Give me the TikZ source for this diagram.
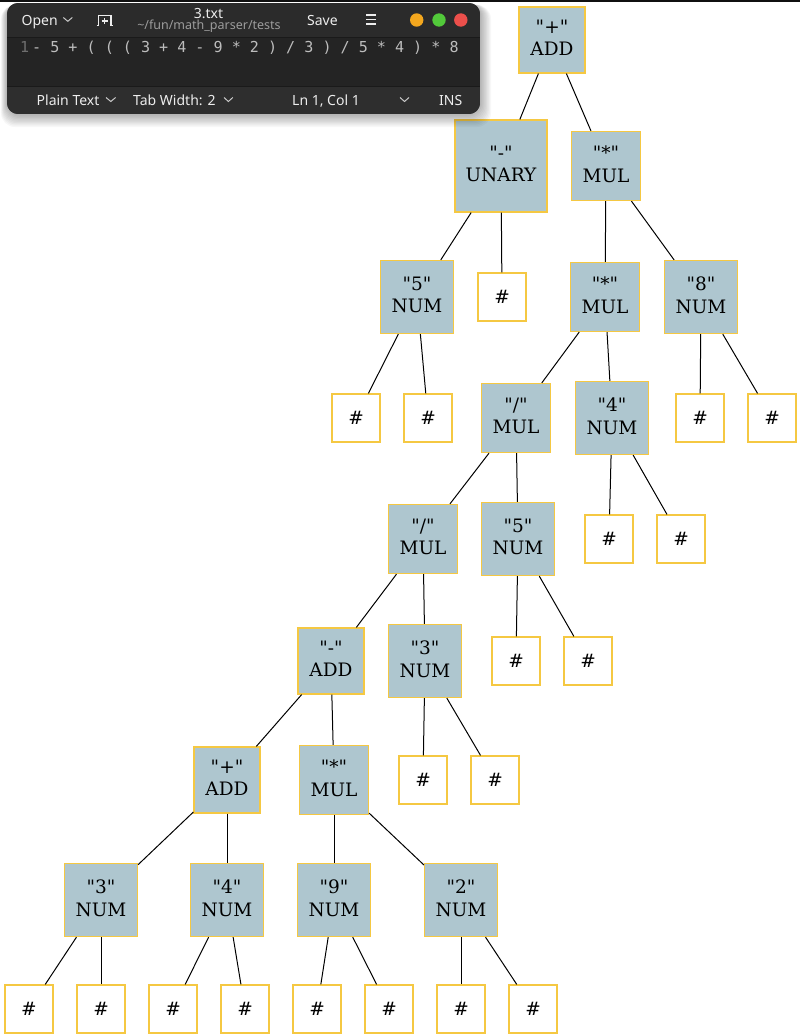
\documentclass[tikz,border=0pt]{standalone}
\usepackage{fontspec}
\setmainfont{DejaVu Serif}[Ligatures=TeXOff]
\newfontfamily\uifont{Noto Sans}
\newfontfamily\codefont{DejaVu Sans Mono}

\definecolor{nodefill}{HTML}{AEC6CF}
\definecolor{nodeedge}{HTML}{F5C842}
\definecolor{winhead}{HTML}{2B2B2B}
\definecolor{winbody}{HTML}{242424}
\definecolor{winfoot}{HTML}{2E2E2E}
\definecolor{winline}{HTML}{1A1A1A}
\definecolor{uitext}{HTML}{EDEDED}
\definecolor{uidim}{HTML}{9C9C9C}
\definecolor{codetext}{HTML}{BDBDBD}
\definecolor{gutter}{HTML}{6E6E6E}
\definecolor{dotorange}{HTML}{F3A71E}
\definecolor{dotgreen}{HTML}{52C93A}
\definecolor{dotred}{HTML}{EC4F4B}
\definecolor{topbar}{HTML}{101010}

\begin{document}
\begin{tikzpicture}[x=1pt, y=-1pt,
  tree/.style={draw=nodeedge, line width=1.2pt, inner sep=0pt, align=center,
               font=\fontsize{18.5}{22.4}\selectfont},
  op/.style={tree, fill=nodefill, text depth=4pt},
  addbox/.style={op, minimum size=66pt},
  mulbox/.style={op, minimum size=69pt},
  numbox/.style={op, minimum size=73pt},
  unarybox/.style={op, minimum size=92pt},
  leaf/.style={tree, fill=white, minimum size=48pt},
  link/.style={draw=black, line width=1pt},
  uitxt/.style={font=\uifont\fontsize{14}{16}\selectfont, text=uitext, inner sep=0pt},
  pathtxt/.style={font=\uifont\fontsize{12.5}{14}\selectfont, text=uidim, inner sep=0pt},
  codetxt/.style={font=\codefont\fontsize{15.07}{17}\selectfont, inner sep=0pt},
  chev/.style={draw=uitext!85!black, line width=1pt, line join=miter},
  icon/.style={draw=uitext, line width=1.1pt}
]
\useasboundingbox (0,0) rectangle (800,1036);
\fill[white] (0,0) rectangle (800,1036);

% ---------- expression tree ----------
\node[addbox]   (root)   at (552,40)  {"+"\\ADD};
\node[unarybox] (neg)    at (501,166) {"-"\\UNARY};
\node[mulbox]   (mulA)   at (606,166) {"*"\\MUL};
\node[numbox]   (fiveA)  at (417,297) {"5"\\NUM};
\node[leaf]     (h1)     at (502,297) {\#};
\node[mulbox]   (mulB)   at (605,297) {"*"\\MUL};
\node[numbox]   (eight)  at (701,297) {"8"\\NUM};
\node[leaf]     (h2)     at (356,418) {\#};
\node[leaf]     (h3)     at (428,418) {\#};
\node[mulbox]   (divA)   at (516,418) {"/"\\MUL};
\node[numbox]   (fourA)  at (612,418) {"4"\\NUM};
\node[leaf]     (h4)     at (700,418) {\#};
\node[leaf]     (h5)     at (772,418) {\#};
\node[mulbox]   (divB)   at (423,539) {"/"\\MUL};
\node[numbox]   (fiveB)  at (518,539) {"5"\\NUM};
\node[leaf]     (h6)     at (609,539) {\#};
\node[leaf]     (h7)     at (681,539) {\#};
\node[addbox]   (sub)    at (331,661) {"-"\\ADD};
\node[numbox]   (threeA) at (425,661) {"3"\\NUM};
\node[leaf]     (h8)     at (516,661) {\#};
\node[leaf]     (h9)     at (588,661) {\#};
\node[addbox]   (plus)   at (227,780) {"+"\\ADD};
\node[mulbox]   (mulC)   at (334,780) {"*"\\MUL};
\node[leaf]     (h10)    at (423,780) {\#};
\node[leaf]     (h11)    at (495,780) {\#};
\node[numbox]   (threeB) at (101,900) {"3"\\NUM};
\node[numbox]   (fourB)  at (227,900) {"4"\\NUM};
\node[numbox]   (nine)   at (334,900) {"9"\\NUM};
\node[numbox]   (two)    at (461,900) {"2"\\NUM};
\node[leaf]     (l1)     at (29,1009)  {\#};
\node[leaf]     (l2)     at (101,1009) {\#};
\node[leaf]     (l3)     at (173,1009) {\#};
\node[leaf]     (l4)     at (245,1009) {\#};
\node[leaf]     (l5)     at (317,1009) {\#};
\node[leaf]     (l6)     at (389,1009) {\#};
\node[leaf]     (l7)     at (461,1009) {\#};
\node[leaf]     (l8)     at (533,1009) {\#};

\draw[link] (root) -- (neg);    \draw[link] (root) -- (mulA);
\draw[link] (neg) -- (fiveA);   \draw[link] (neg) -- (h1);
\draw[link] (mulA) -- (mulB);   \draw[link] (mulA) -- (eight);
\draw[link] (fiveA) -- (h2);    \draw[link] (fiveA) -- (h3);
\draw[link] (mulB) -- (divA);   \draw[link] (mulB) -- (fourA);
\draw[link] (eight) -- (h4);    \draw[link] (eight) -- (h5);
\draw[link] (divA) -- (divB);   \draw[link] (divA) -- (fiveB);
\draw[link] (fourA) -- (h6);    \draw[link] (fourA) -- (h7);
\draw[link] (divB) -- (sub);    \draw[link] (divB) -- (threeA);
\draw[link] (fiveB) -- (h8);    \draw[link] (fiveB) -- (h9);
\draw[link] (sub) -- (plus);    \draw[link] (sub) -- (mulC);
\draw[link] (threeA) -- (h10);  \draw[link] (threeA) -- (h11);
\draw[link] (plus) -- (threeB); \draw[link] (plus) -- (fourB);
\draw[link] (mulC) -- (nine);   \draw[link] (mulC) -- (two);
\draw[link] (threeB) -- (l1);   \draw[link] (threeB) -- (l2);
\draw[link] (fourB) -- (l3);    \draw[link] (fourB) -- (l4);
\draw[link] (nine) -- (l5);     \draw[link] (nine) -- (l6);
\draw[link] (two) -- (l7);      \draw[link] (two) -- (l8);

% ---------- editor window ----------
% soft drop shadow
\foreach \i in {1,...,10}
  \fill[black, opacity=0.03, rounded corners=14pt]
    (7-0.6*\i, 3+0.2*\i) rectangle (480+1.1*\i, 114+1.3*\i);

\begin{scope}
  \clip[rounded corners=11pt] (7,3) rectangle (480,114);
  \fill[winbody] (7,3) rectangle (480,114);
  \fill[winhead] (7,3) rectangle (480,37.5);
  \fill[winfoot] (7,86) rectangle (480,114);
  \draw[winline, line width=1pt] (7,37.5) -- (480,37.5);
  \draw[winline, line width=1pt] (7,86) -- (480,86);
\end{scope}

% header bar
\node[uitxt, anchor=base west] (open) at (21.5,25) {Open};
\draw[chev] (63.3,17.5) -- (67.8,21.3) -- (72.3,17.5);
\draw[icon] (96.5,25.3) -- (98.4,25.3) -- (98.4,15.6) -- (111,15.6) -- (111,25.3) -- (112.9,25.3);
\draw[icon] (101.7,21) -- (107.7,21) (104.7,18) -- (104.7,24);
\node[uitxt, anchor=base] (title) at (208.5,18.3) {3.txt};
\node[pathtxt, anchor=base] (path) at (209,29.6) {\textasciitilde/fun/math\_parser/tests};
\node[uitxt, anchor=base west] (save) at (307,25) {Save};
\draw[icon] (366,15) -- (376,15) (366,19.5) -- (376,19.5) (366,24) -- (376,24);
\fill[dotorange] (416.7,20) circle[radius=6.7pt];
\fill[dotgreen]  (439,20)   circle[radius=6.7pt];
\fill[dotred]    (460.8,20) circle[radius=6.7pt];

% text area
\node[codetxt, text=gutter, anchor=base west] (lineno) at (19.8,52) {1};
\node[codetxt, text=codetext, anchor=base west] (code) at (32,52)
  {- 5 + ( ( ( 3 + 4 - 9 * 2 ) / 3 ) / 5 * 4 ) * 8};

% status bar
\node[uitxt, anchor=base west] (mode) at (36.5,105) {Plain Text};
\draw[chev] (106,97.5) -- (110.8,101.5) -- (115.6,97.5);
\node[uitxt, anchor=base west] (tabw) at (133,105) {Tab Width: 2};
\draw[chev] (224,97.5) -- (228.4,101.5) -- (232.8,97.5);
\node[uitxt, anchor=base west] (pos) at (292,105) {Ln 1, Col 1};
\draw[chev] (400,97.5) -- (404.5,101.5) -- (409,97.5);
\node[uitxt, anchor=base west] (ins) at (439,105) {INS};

% dark strip along the top edge
\fill[topbar] (0,0) rectangle (800,2);
\end{tikzpicture}
\end{document}
